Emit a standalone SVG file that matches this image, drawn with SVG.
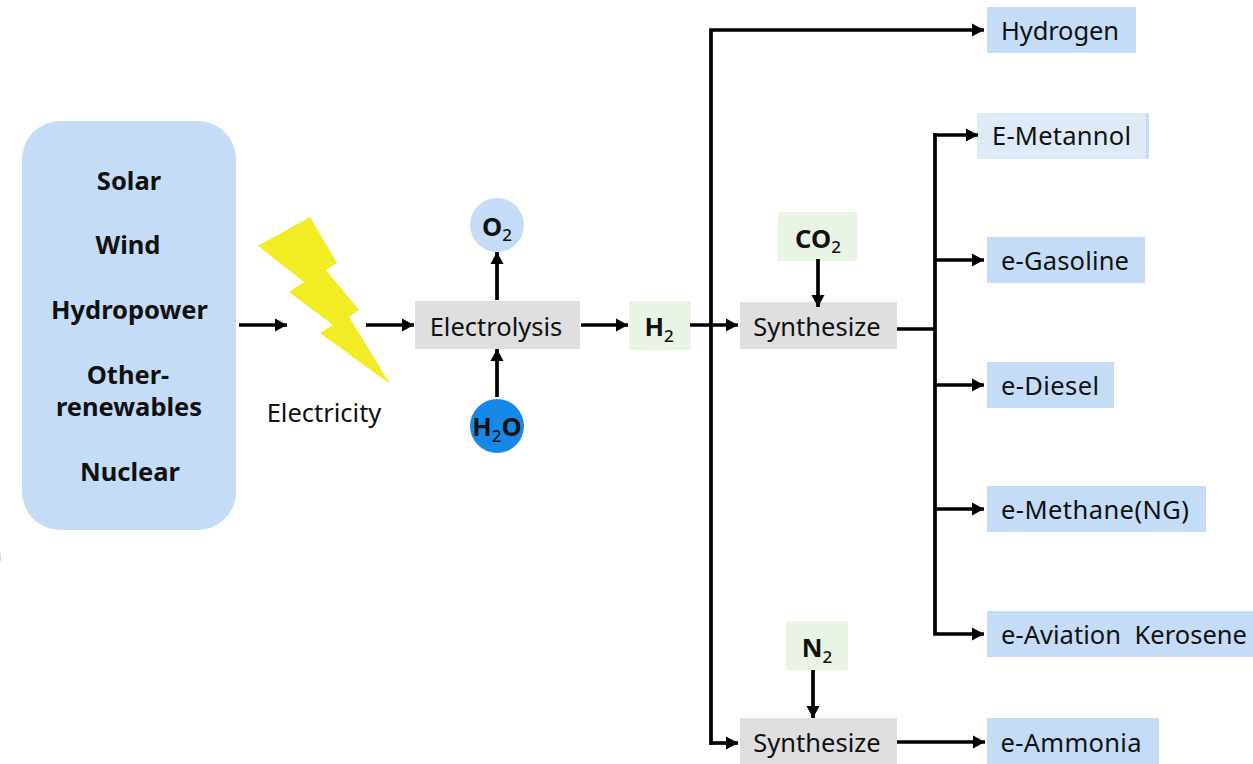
<svg xmlns="http://www.w3.org/2000/svg" width="1253" height="764" viewBox="0 0 1253 764">
<style>
text{font-family:"Noto Sans","Open Sans","Liberation Sans",sans-serif;fill:#111;text-anchor:middle;white-space:pre}
.n{font-size:25.5px}
.b{font-size:25.5px;font-weight:700}
.s{font-size:17px;font-weight:500}
.l{fill:none;stroke:#000;stroke-width:3.7}
.blue{fill:#c5dcf6}.green{fill:#e9f4e4}.grey{fill:#dfdfdf}
</style>
<defs><marker id="a" markerUnits="userSpaceOnUse" markerWidth="13" markerHeight="14" refX="12" refY="7" orient="auto"><path d="M0 .5L12 7L0 13.5z" fill="#000"/></marker></defs>
<rect width="1253" height="764" fill="#fff"/>
<rect class="blue" x="0" y="553" width="1" height="8"/>
<g id="sources"><rect class="blue" x="22" y="121" width="214" height="409" rx="38"/>
<text class="b" x="129" y="190">Solar</text><text class="b" x="128" y="254">Wind</text><text class="b" x="129.5" y="319">Hydropower</text><text class="b"><tspan x="128" y="384">Other-</tspan><tspan x="129" y="416">renewables</tspan></text><text class="b" x="130" y="481">Nuclear</text></g>
<g id="electricity"><path fill="#f1ec24" d="M310 217L258 246L304 282L289 292L333 325L320 333L390 384L349 317L359 310L326 270L337 263Z"/>
<text class="n" x="324" y="422">Electricity</text></g>
<g id="electrolysis"><rect class="grey" x="415" y="301" width="165" height="48"/><text class="n" x="496" y="336">Electrolysis</text></g>
<g id="o2"><circle class="blue" cx="497" cy="225" r="27"/><text class="b" x="497" y="236">O<tspan class="s" dy="5">2</tspan></text></g>
<g id="h2o"><circle fill="#1788e8" cx="497" cy="426" r="27"/><text class="b" x="497" y="436">H<tspan class="s" dy="6">2</tspan><tspan dy="-6">O</tspan></text></g>
<g id="h2"><rect class="green" x="629" y="301" width="62" height="49"/><text class="b" x="659" y="336">H<tspan class="s" dy="6">2</tspan></text></g>
<g id="co2"><rect class="green" x="778" y="212" width="79" height="49"/><text class="b" x="818" y="248">CO<tspan class="s" dy="5">2</tspan></text></g>
<g id="synth1"><rect class="grey" x="740" y="302" width="157" height="47"/><text class="n" x="817" y="336">Synthesize</text></g>
<g id="n2"><rect class="green" x="786" y="621" width="62" height="49"/><text class="b" x="817" y="657">N<tspan class="s" dy="6">2</tspan></text></g>
<g id="synth2"><rect class="grey" x="740" y="718" width="157" height="46"/><text class="n" x="817" y="752">Synthesize</text></g>
<g id="hydrogen"><rect class="blue" x="987" y="7" width="149" height="46"/><text class="n" x="1060" y="40" textLength="118">Hydrogen</text></g>
<g id="methanol"><rect class="blue" x="977" y="113" width="172" height="46"/><rect fill="#deeaf7" x="977" y="113" width="169" height="46"/><text class="n" x="1061.5" y="145" textLength="139">E-Metannol</text></g>
<g id="gasoline"><rect class="blue" x="987" y="237" width="158" height="46"/><text class="n" x="1065" y="270" textLength="128">e-Gasoline</text></g>
<g id="diesel"><rect class="blue" x="987" y="362" width="127" height="46"/><text class="n" x="1050" y="395" textLength="98">e-Diesel</text></g>
<g id="methane"><rect class="blue" x="987" y="486" width="219" height="46"/><text class="n" x="1095" y="519" textLength="188">e-Methane(NG)</text></g>
<g id="kerosene"><rect class="blue" x="987" y="611" width="266" height="46"/><text class="n" x="1124" y="644" textLength="246">e-Aviation  Kerosene</text></g>
<g id="ammonia"><rect class="blue" x="987" y="718" width="172" height="46"/><text class="n" x="1071" y="752" textLength="141">e-Ammonia</text></g>
<g id="connectors">
<path class="l" marker-end="url(#a)" d="M239 325H287"/>
<path class="l" marker-end="url(#a)" d="M366 325H414"/>
<path class="l" marker-end="url(#a)" d="M497 300V252"/>
<path class="l" marker-end="url(#a)" d="M497 397V349"/>
<path class="l" marker-end="url(#a)" d="M581 325H628"/>
<path class="l" marker-end="url(#a)" d="M690 325H738"/>
<path class="l" marker-end="url(#a)" d="M818 259V307"/>
<path class="l" marker-end="url(#a)" d="M711 743H738"/>
<path class="l" marker-end="url(#a)" d="M711 745V30H984"/>
<path class="l" marker-end="url(#a)" d="M813 670V718"/>
<path class="l" marker-end="url(#a)" d="M897 742H985"/>
<path class="l" d="M897 329H935"/>
<path class="l" marker-end="url(#a)" d="M935 135H978"/>
<path class="l" marker-end="url(#a)" d="M935 133V634H984"/>
<path class="l" marker-end="url(#a)" d="M935 260H984"/>
<path class="l" marker-end="url(#a)" d="M935 385H984"/>
<path class="l" marker-end="url(#a)" d="M935 509H984"/>
</g>
</svg>
